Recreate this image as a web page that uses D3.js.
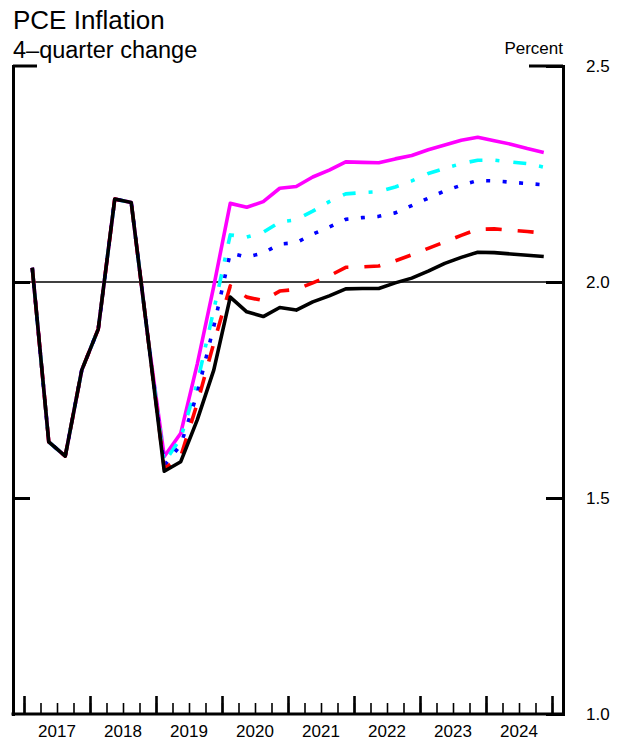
<!DOCTYPE html>
<meta charset="utf-8">
<style>
  body { margin: 0; background: #fff; }
  text { font-family: "Liberation Sans", Arial, sans-serif; fill: #000; }
</style>

<svg width="626" height="740"></svg>

<script src="https://d3js.org/d3.v7.min.js"></script>
<script>

var years = [2017, 2018, 2019, 2020, 2021, 2022, 2023, 2024]
var yTicks = [1.0, 1.5, 2.0, 2.5]

// 2017Q1 - 2018Q4, shared by every line
var pastValues = [2.033, 1.630, 1.597, 1.796, 1.891, 2.192, 2.184, 1.875]

// 2019Q1 - 2024Q4
var magentaValues = [1.596, 1.650, 1.810, 1.990, 2.182, 2.173, 2.186, 2.217, 2.221, 2.243, 2.259, 2.278,
  2.277, 2.276, 2.285, 2.293, 2.306, 2.317, 2.328, 2.335, 2.327, 2.319, 2.309, 2.300]
var cyanValues = [1.582, 1.639, 1.766, 1.935, 2.109, 2.104, 2.115, 2.139, 2.144, 2.164, 2.186, 2.204,
  2.207, 2.209, 2.220, 2.234, 2.251, 2.263, 2.274, 2.282, 2.282, 2.278, 2.274, 2.266]
var blueValues = [1.575, 1.623, 1.742, 1.897, 2.067, 2.058, 2.067, 2.088, 2.091, 2.111, 2.127, 2.145,
  2.149, 2.152, 2.160, 2.177, 2.194, 2.211, 2.224, 2.235, 2.234, 2.231, 2.228, 2.225]
var redValues = [1.568, 1.596, 1.719, 1.858, 1.991, 1.965, 1.957, 1.979, 1.983, 1.998, 2.014, 2.034,
  2.035, 2.037, 2.049, 2.063, 2.078, 2.093, 2.108, 2.122, 2.123, 2.120, 2.117, 2.113]
var blackValues = [1.562, 1.584, 1.681, 1.796, 1.965, 1.931, 1.920, 1.941, 1.935, 1.954, 1.968, 1.984,
  1.985, 1.985, 1.998, 2.009, 2.025, 2.043, 2.057, 2.069, 2.068, 2.065, 2.062, 2.059]

var series = [
  { values: magentaValues, color: '#ff00ff', dash: null },
  { values: cyanValues, color: '#00ffff', dash: '13,13,4,14' },
  { values: blueValues, color: '#0000ff', dash: '4,12.5' },
  { values: redValues, color: '#ff0000', dash: '16,16' },
  { values: blackValues, color: '#000000', dash: null }
]

var svg = d3.select('svg')
var left = 13, right = 563

var x = d3.scaleLinear().domain([0, years.length * 4]).range([24, 552])
var y = d3.scaleLinear().domain([1.0, 2.5]).range([714, 66])

// titles
svg.append('text').attr('x', 13).attr('y', 29).attr('font-size', 26).text('PCE Inflation')
svg.append('text').attr('x', 13).attr('y', 58).attr('font-size', 23.5).text('4\u2013quarter change')
svg.append('text').attr('x', right).attr('y', 54).attr('font-size', 17)
  .attr('text-anchor', 'end').text('Percent')

// reference line at 2 percent
svg.append('line')
  .attr('x1', left).attr('x2', right)
  .attr('y1', y(2.0)).attr('y2', y(2.0))
  .attr('stroke', '#000').attr('stroke-width', 1.3)

// lines, black drawn last so it sits on top
var line = d3.line()
  .x(function (d, i) { return x(i + 0.5) })
  .y(function (d) { return y(d) })

series.forEach(function (s) {
  svg.append('path')
    .datum(pastValues.concat(s.values))
    .attr('d', line)
    .attr('fill', 'none')
    .attr('stroke', s.color)
    .attr('stroke-width', 3.6)
    .attr('stroke-linejoin', 'round')
    .attr('stroke-dasharray', s.dash)
})

// left axis: ticks only
var leftAxis = svg.append('g')
  .attr('transform', 'translate(' + left + ',0)')
  .call(d3.axisRight(y).tickValues([1.5, 2.0]).tickSizeInner(17).tickSizeOuter(0).tickFormat(''))

// right axis with labels
var rightAxis = svg.append('g')
  .attr('transform', 'translate(' + right + ',0)')
  .call(d3.axisRight(y).tickValues(yTicks).tickSizeInner(-17).tickSizeOuter(0)
    .tickPadding(23).tickFormat(d3.format('.1f')))

rightAxis.selectAll('text').attr('font-size', 17).attr('font-family', '"Liberation Sans", Arial, sans-serif')

;[leftAxis, rightAxis].forEach(function (g) {
  g.select('.domain').attr('stroke-width', 3).attr('stroke-linecap', 'square')
  g.selectAll('.tick line').attr('stroke-width', 3)
})

// longer ticks at the top
svg.append('line').attr('x1', left).attr('x2', left + 24)
  .attr('y1', y(2.5)).attr('y2', y(2.5)).attr('stroke', '#000').attr('stroke-width', 3)
svg.append('line').attr('x1', right - 34).attr('x2', right)
  .attr('y1', y(2.5)).attr('y2', y(2.5)).attr('stroke', '#000').attr('stroke-width', 3)

// bottom axis: quarter and year ticks
var minor = svg.append('g')
  .attr('transform', 'translate(0,' + y(1.0) + ')')
  .call(d3.axisTop(x).tickValues(d3.range(0, years.length * 4 + 1)).tickSize(11).tickFormat(''))
minor.select('.domain').remove()
minor.selectAll('.tick line').attr('stroke-width', 1.6)

var major = svg.append('g')
  .attr('transform', 'translate(0,' + y(1.0) + ')')
  .call(d3.axisTop(x).tickValues(d3.range(0, years.length * 4 + 1, 4)).tickSize(18).tickFormat(''))
major.select('.domain').remove()
major.selectAll('.tick line').attr('stroke-width', 2.6)

svg.append('line')
  .attr('x1', left).attr('x2', right)
  .attr('y1', y(1.0)).attr('y2', y(1.0))
  .attr('stroke', '#000').attr('stroke-width', 3).attr('stroke-linecap', 'square')

svg.append('g').selectAll('text')
  .data(years)
  .enter().append('text')
  .attr('x', function (d, i) { return x(i * 4 + 2) })
  .attr('y', 737)
  .attr('font-size', 17)
  .attr('text-anchor', 'middle')
  .text(function (d) { return d })

</script>
